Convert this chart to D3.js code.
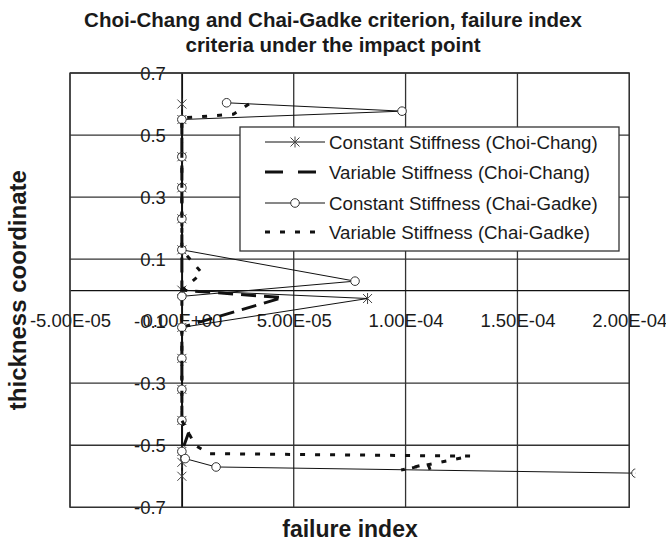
<!DOCTYPE html>
<html>
<head>
<meta charset="utf-8">
<script src="https://cdn.jsdelivr.net/npm/d3@7"></script>
<style>
  html, body { margin: 0; padding: 0; background: #fff; }
  svg text { font-family: "Liberation Sans", Arial, sans-serif; fill: #1a1a1a; }
</style>
</head>
<body>
<svg id="chart" width="666" height="542"></svg>
<script>
// Failure index through the laminate thickness, below the impact point
const seriesNames = [
  "Constant Stiffness (Choi-Chang)",
  "Variable Stiffness (Choi-Chang)",
  "Constant Stiffness (Chai-Gadke)",
  "Variable Stiffness (Chai-Gadke)"
];

// thickness coordinate (y) and failure index (x), one pair of arrays per series
const constChoiY = [0.6, 0.55, 0.43, 0.33, 0.23, 0.13, 0.0, -0.027, -0.12, -0.22, -0.32, -0.42, -0.52, -0.555, -0.6];
const constChoiX = [0, 0, 0, 0, 0, 0, 0, 8.3e-5, 0, 0, 0, 0, 0, 0, 0];

const varChoiY = [0.55, 0.43, 0.33, 0.23, 0.13, 0.0, -0.024, -0.12, -0.22, -0.32, -0.42, -0.46, -0.52, -0.55];
const varChoiX = [0, 0, 0, 0, 0, 0, 4.5e-5, 0, 0, 0, 0, 3e-6, 0, 0];

const constChaiY = [0.604, 0.577, 0.55, 0.43, 0.33, 0.23, 0.13, 0.029, -0.02, -0.12, -0.22, -0.32, -0.42, -0.52, -0.543, -0.57, -0.59];
const constChaiX = [2.0e-5, 9.84e-5, 0, 0, 0, 0, 0, 7.74e-5, 0, 0, 0, 0, 0, 0, 1.5e-6, 1.53e-5, 2.03e-4];

const varChaiY = [0.6, 0.567, 0.555, 0.43, 0.33, 0.23, 0.13, 0.055, 0.0, -0.12, -0.22, -0.32, -0.42, -0.5, -0.527, -0.535, -0.58, -0.56, -0.6];
const varChaiX = [3.0e-5, 2.3e-5, 0, 0, 0, 0, 0, 9e-6, 0, 0, 0, 0, 0, 6e-6, 1.2e-5, 1.29e-4, 9.8e-5, 1.1e-4, 1.12e-4];

// axis ticks
const xTicks = [-5e-5, 0, 5e-5, 1e-4, 1.5e-4, 2e-4];
const xTickLabels = ["-5.00E-05", "0.00E+00", "5.00E-05", "1.00E-04", "1.50E-04", "2.00E-04"];
const yTicks = [0.7, 0.5, 0.3, 0.1, -0.1, -0.3, -0.5, -0.7];
const yTickLabels = ["0.7", "0.5", "0.3", "0.1", "-0.1", "-0.3", "-0.5", "-0.7"];
const yGrid = [0.7, 0.5, 0.3, 0.1, -0.3, -0.5, -0.7];

const titleLines = ["Choi-Chang and Chai-Gadke criterion, failure index", "criteria under the impact point"];
const xTitle = "failure index";
const yTitle = "thickness coordinate";

const svg = d3.select("#chart");
const plot = { left: 70, right: 629.3, top: 73, bottom: 507.3 };

const x = d3.scaleLinear().domain([-5e-5, 2e-4]).range([plot.left, plot.right]);
const y = d3.scaleLinear().domain([-0.7, 0.7]).range([plot.bottom, plot.top]);

// title
svg.append("g").selectAll("text").data(titleLines).join("text")
  .attr("x", 333).attr("y", (d, i) => 27 + i * 25)
  .attr("text-anchor", "middle")
  .style("font-weight", "bold").style("font-size", "20.5px")
  .text(d => d);

// grid
const grid = svg.append("g").attr("stroke", "#333").attr("stroke-width", 1.3);
grid.selectAll("line.h").data(yGrid).join("line")
  .attr("x1", plot.left).attr("x2", plot.right)
  .attr("y1", d => y(d)).attr("y2", d => y(d));
grid.selectAll("line.v").data(xTicks).join("line")
  .attr("y1", plot.top).attr("y2", plot.bottom)
  .attr("x1", d => x(d)).attr("x2", d => x(d));

// axes through the origin
const xAxis = d3.axisBottom(x).tickValues(xTicks).tickSize(0).tickPadding(0)
  .tickFormat((d, i) => xTickLabels[i]);
svg.append("g").attr("transform", `translate(0,${y(0)})`).call(xAxis)
  .call(g => g.select(".domain").attr("stroke", "#111").attr("stroke-width", 1.4))
  .call(g => g.selectAll("text").attr("dy", null).attr("y", 37)
    .style("font-size", "18.5px").style("font-family", "'Liberation Sans', Arial, sans-serif").attr("fill", "#1a1a1a"));

const yAxis = d3.axisLeft(y).tickValues(yTicks).tickSize(0).tickPadding(16)
  .tickFormat((d, i) => yTickLabels[i]);
svg.append("g").attr("transform", `translate(${x(0)},0)`).call(yAxis)
  .call(g => g.select(".domain").attr("stroke", "#111").attr("stroke-width", 1.4))
  .call(g => g.selectAll("text").attr("dy", "0.35em")
    .style("font-size", "18.5px").style("font-family", "'Liberation Sans', Arial, sans-serif").attr("fill", "#1a1a1a"));

// axis titles
svg.append("text").attr("x", 350).attr("y", 537).attr("text-anchor", "middle")
  .style("font-weight", "bold").style("font-size", "23px").text(xTitle);
svg.append("text").attr("transform", `translate(26,${(plot.top + plot.bottom) / 2}) rotate(-90)`)
  .attr("text-anchor", "middle")
  .style("font-weight", "bold").style("font-size", "24px").text(yTitle);

// series
svg.append("clipPath").attr("id", "plotclip").append("rect")
  .attr("x", plot.left).attr("y", plot.top - 10).attr("width", plot.right - plot.left + 6).attr("height", plot.bottom - plot.top + 20);

const series = [
  { name: seriesNames[0], xs: constChoiX, ys: constChoiY, width: 1, dash: null, legendDash: null, marker: "star" },
  { name: seriesNames[1], xs: varChoiX, ys: varChoiY, width: 3, dash: "15,8", legendDash: "18,15", marker: null },
  { name: seriesNames[2], xs: constChaiX, ys: constChaiY, width: 1, dash: null, legendDash: null, marker: "circle" },
  { name: seriesNames[3], xs: varChaiX, ys: varChaiY, width: 3, dash: "5,10", legendDash: "5,10", marker: null }
];

const line = d3.line().x(d => x(d[0])).y(d => y(d[1]));
const layer = svg.append("g").attr("clip-path", "url(#plotclip)");

function drawMarker(g, kind, cx, cy) {
  if (kind === "star") {
    const r = 4.5;
    g.append("path")
      .attr("d", `M${cx - r},${cy - r}L${cx + r},${cy + r}M${cx - r},${cy + r}L${cx + r},${cy - r}M${cx},${cy - r - 1}L${cx},${cy + r + 1}`)
      .attr("stroke", "#444").attr("stroke-width", 1).attr("fill", "none");
  } else if (kind === "circle") {
    g.append("circle").attr("cx", cx).attr("cy", cy).attr("r", 4.3)
      .attr("fill", "#fff").attr("stroke", "#333").attr("stroke-width", 1);
  }
}

series.forEach(s => {
  const pts = s.xs.map((v, i) => [v, s.ys[i]]);
  layer.append("path").datum(pts).attr("d", line)
    .attr("fill", "none").attr("stroke", "#111")
    .attr("stroke-width", s.width)
    .attr("stroke-dasharray", s.dash);
  if (s.marker) {
    const mg = layer.append("g");
    pts.forEach(p => drawMarker(mg, s.marker, x(p[0]), y(p[1])));
  }
});

// plot frame
svg.append("rect").attr("x", plot.left).attr("y", plot.top)
  .attr("width", plot.right - plot.left).attr("height", plot.bottom - plot.top)
  .attr("fill", "none").attr("stroke", "#333").attr("stroke-width", 1.3);

// legend
const lg = svg.append("g").attr("transform", "translate(240,127)");
lg.append("rect").attr("width", 379).attr("height", 124)
  .attr("fill", "#fff").attr("stroke", "#333").attr("stroke-width", 1.3);
const rowY = [15, 45, 76, 105];
series.forEach((s, i) => {
  const ry = rowY[i];
  lg.append("line").attr("x1", 25).attr("x2", 85).attr("y1", ry).attr("y2", ry)
    .attr("stroke", "#111").attr("stroke-width", s.width)
    .attr("stroke-dasharray", s.legendDash);
  if (s.marker) drawMarker(lg, s.marker, 55, ry);
  lg.append("text").attr("x", 89).attr("y", ry).attr("dy", "0.35em")
    .style("font-size", "18.7px").text(s.name);
});
</script>
</body>
</html>
